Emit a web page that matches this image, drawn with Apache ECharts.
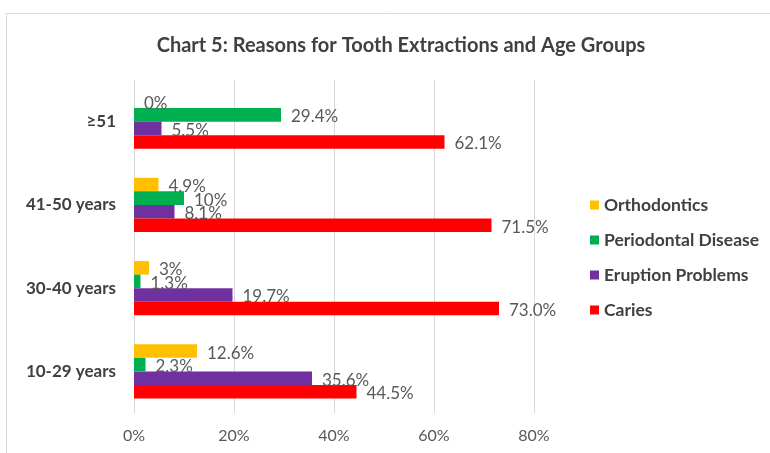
<!DOCTYPE html>
<html>
<head>
<meta charset="utf-8">
<script src="https://cdn.jsdelivr.net/npm/echarts@6/dist/echarts.min.js"></script>
<style>html,body{margin:0;padding:0;background:#fff}#c{width:770px;height:453px}</style>
</head>
<body>
<div id="c"></div>
<script>
const categories = ['≥51', '41-50 years', '30-40 years', '10-29 years'];
const seriesNames = ['Orthodontics', 'Periodontal Disease', 'Eruption Problems', 'Caries'];
const orthodontics = [0, 4.9, 3, 12.6];
const periodontal = [29.4, 10, 1.3, 2.3];
const eruption = [5.5, 8.1, 19.7, 35.6];
const caries = [62.1, 71.5, 73.0, 44.5];
const orthodonticsLabels = ['0%', '4.9%', '3%', '12.6%'];
const periodontalLabels = ['29.4%', '10%', '1.3%', '2.3%'];
const eruptionLabels = ['5.5%', '8.1%', '19.7%', '35.6%'];
const cariesLabels = ['62.1%', '71.5%', '73.0%', '44.5%'];
const xTicks = [0, 20, 40, 60, 80];

const colors = ['#FFC000', '#00B050', '#7030A0', '#FF0000'];
const values = [orthodontics, periodontal, eruption, caries];
const labels = [orthodonticsLabels, periodontalLabels, eruptionLabels, cariesLabels];
const font = 'Lato, "Open Sans", sans-serif';

const chart = echarts.init(document.getElementById('c'));
chart.setOption({
  backgroundColor: '#fff',
  animation: false,
  title: {
    text: 'Chart 5: Reasons for Tooth Extractions and Age Groups',
    left: 396, top: 31, textAlign: 'center',
    textStyle: { fontFamily: font, fontSize: 20, fontWeight: 'bold', color: '#404040' }
  },
  graphic: [{
    type: 'rect', shape: { x: 6.5, y: 13.5, width: 820, height: 500 },
    style: { fill: 'none', stroke: '#d9d9d9', lineWidth: 1 }, silent: true
  }],
  legend: {
    orient: 'vertical', left: 585, top: 191,
    itemWidth: 9, itemHeight: 9, itemGap: 17, icon: 'rect',
    textStyle: { fontFamily: font, fontSize: 17.5, fontWeight: 'bold', color: '#404040' },
    data: seriesNames
  },
  grid: { left: 134, right: 236, top: 80, bottom: 40, containLabel: false },
  xAxis: {
    type: 'value', min: xTicks[0], max: xTicks[xTicks.length - 1], interval: 20,
    axisLine: { show: false }, axisTick: { show: false },
    splitLine: { lineStyle: { color: '#d9d9d9' } },
    axisLabel: { formatter: '{value}%', fontFamily: font, fontSize: 16, color: '#595959', margin: 15 }
  },
  yAxis: {
    type: 'category', data: categories, inverse: true,
    axisLine: { lineStyle: { color: '#d9d9d9' } },
    axisTick: { length: 5, lineStyle: { color: '#d9d9d9' } },
    axisLabel: { fontFamily: font, fontSize: 17, fontWeight: 'bold', color: '#404040', margin: 18 }
  },
  series: seriesNames.map((name, i) => ({
    name, type: 'bar', data: values[i],
    barGap: '0%', barCategoryGap: '35%',
    itemStyle: { color: colors[i] },
    label: {
      show: true, position: 'right', distance: 10, offset: [0, 2],
      formatter: p => labels[i][p.dataIndex],
      fontFamily: font, fontSize: 17, color: '#595959'
    }
  }))
});
</script>
</body>
</html>
